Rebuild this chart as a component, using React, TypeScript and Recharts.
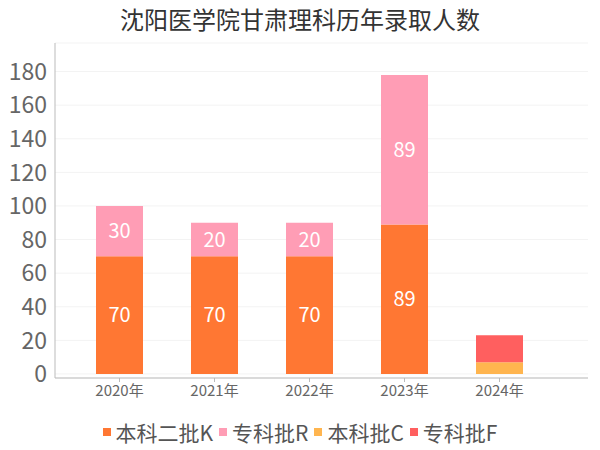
import { Bar, BarChart, CartesianGrid, LabelList, Legend, XAxis, YAxis } from "recharts";

const years = ["2020年", "2021年", "2022年", "2023年", "2024年"];
const benkeK = [70, 70, 70, 89, 0];
const zhuankeR = [30, 20, 20, 89, 0];
const benkeC = [0, 0, 0, 0, 7];
const zhuankeF = [0, 0, 0, 0, 16];
const yTicks = [0, 20, 40, 60, 80, 100, 120, 140, 160, 180];

const SERIES = [
  { key: "k", name: "本科二批K", color: "#FF7733" },
  { key: "r", name: "专科批R", color: "#FF9DB5" },
  { key: "c", name: "本科批C", color: "#FFB54F" },
  { key: "f", name: "专科批F", color: "#FF5F5F" },
];

const data = years.map((year, i) => ({
  year,
  k: benkeK[i],
  r: zhuankeR[i],
  c: benkeC[i],
  f: zhuankeF[i],
}));

const FONT = '"Noto Sans CJK SC", "Noto Sans", sans-serif';

function LegendContent() {
  return (
    <div
      style={{
        display: "flex",
        justifyContent: "center",
        alignItems: "center",
        gap: 6,
        fontFamily: FONT,
        fontSize: 21,
        color: "#555",
      }}
    >
      {SERIES.map((s) => (
        <span key={s.key} style={{ display: "flex", alignItems: "center" }}>
          <span
            style={{
              width: 8,
              height: 8,
              background: s.color,
              marginRight: 5,
              display: "inline-block",
            }}
          />
          {s.name}
        </span>
      ))}
    </div>
  );
}

const hideZero = (v: any) => (v ? v : "");

export default function App() {
  return (
    <div style={{ position: "absolute", left: 0, top: 0, width: 600, height: 450, background: "#fff" }}>
      <div
        style={{
          position: "absolute",
          top: 1,
          width: 600,
          textAlign: "center",
          fontFamily: FONT,
          fontSize: 24,
          color: "#333",
        }}
      >
        沈阳医学院甘肃理科历年录取人数
      </div>
      <BarChart
        width={600}
        height={450}
        data={data}
        margin={{ top: 43, right: 12, left: 0, bottom: 42 }}
        style={{ fontFamily: FONT }}
      >
        <CartesianGrid stroke="#f3f3f3" vertical={false} />
        <XAxis
          dataKey="year"
          height={30}
          padding={{ left: 17, right: 41 }}
          stroke="#bbb"
          tickSize={4}
          tickMargin={3}
          tick={{ fill: "#666", fontSize: 15 }}
        />
        <YAxis
          width={55}
          domain={[-2.4, 197]}
          ticks={yTicks}
          stroke="#bbb"
          tickLine={false}
          tick={{ fill: "#666", fontSize: 23 }}
        />
        <Legend
          layout="horizontal"
          verticalAlign="middle"
          align="center"
          content={<LegendContent />}
          wrapperStyle={{ top: 417, left: 0, width: 600 }}
        />
        {SERIES.map((s) => (
          <Bar
            key={s.key}
            dataKey={s.key}
            name={s.name}
            stackId="a"
            fill={s.color}
            barSize={47}
            isAnimationActive={false}
          >
            {(s.key === "k" || s.key === "r") && (
              <LabelList
                dataKey={s.key}
                position="center"
                fill="#fff"
                fontSize={20}
                formatter={hideZero}
              />
            )}
          </Bar>
        ))}
      </BarChart>
    </div>
  );
}
